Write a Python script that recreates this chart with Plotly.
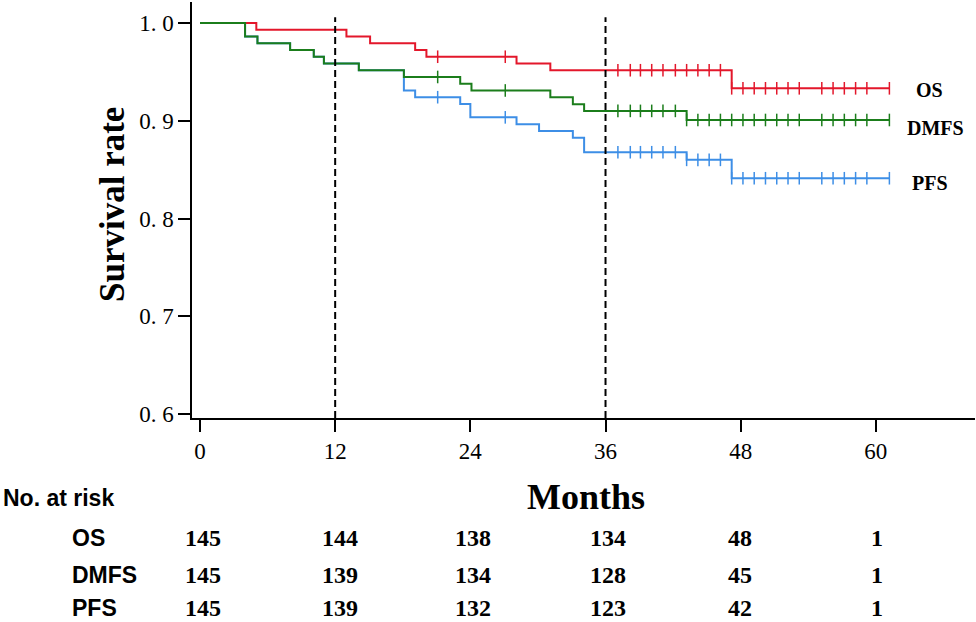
import plotly.graph_objects as go

# ---------------- data ----------------
month_ticks = [0, 12, 24, 36, 48, 60]
y_ticks = [0.6, 0.7, 0.8, 0.9, 1.0]
y_tick_labels = ["0. 6", "0. 7", "0. 8", "0. 9", "1. 0"]

os_t = [0, 5.0, 13.0, 15.1, 19.1, 20.1, 28.1, 31.1, 47.2, 61.2]
os_s = [1.0, 0.9931, 0.9862, 0.9793, 0.9724, 0.9655, 0.9586, 0.9517, 0.9332, 0.9332]

dmfs_t = [0, 4.0, 5.1, 8.0, 10.1, 11.0, 14.1, 18.1, 23.1, 24.1, 31.1, 33.1, 34.1, 43.2, 61.2]
dmfs_s = [1.0, 0.9862, 0.9793, 0.9724, 0.9655, 0.9586, 0.9517, 0.9448, 0.9379, 0.9310,
          0.9240, 0.9170, 0.9101, 0.9008, 0.9008]

pfs_t = [0, 4.0, 5.1, 8.0, 10.1, 11.0, 14.1, 18.1, 19.1, 23.1, 24.0, 28.1, 30.1, 33.1,
         34.1, 43.2, 47.2, 61.2]
pfs_s = [1.0, 0.9862, 0.9793, 0.9724, 0.9655, 0.9586, 0.9517, 0.9310, 0.9241, 0.9172,
         0.9035, 0.8965, 0.8896, 0.8827, 0.8678, 0.8600, 0.8412, 0.8412]

censor_t = [21.1, 27.1, 37.1, 38.2, 39.1, 40.1, 41.1, 42.2, 43.2, 44.2, 45.2, 46.2,
            47.2, 48.2, 49.2, 50.2, 51.2, 52.2, 53.2, 55.2, 56.2, 57.2, 58.2, 59.2, 61.2]

ref_lines = [12, 36]

series_names = ["OS", "DMFS", "PFS"]
risk_times = [0, 12, 24, 36, 48, 60]
risk_os = [145, 144, 138, 134, 48, 1]
risk_dmfs = [145, 139, 134, 128, 45, 1]
risk_pfs = [145, 139, 132, 123, 42, 1]

# ---------------- styling ----------------
W, H = 976, 622
L, R, T, B = 192, 1, 2, 204
PW, PH = W - L - R, H - T - B
SERIF = "Liberation Serif, Times New Roman, serif"
SANS = "Liberation Sans, Arial, sans-serif"
RED, GREEN, BLUE = "#E3172B", "#1B7D1B", "#3D8EE6"
# pixel column centres of the risk table (slightly offset from the ticks, as in the source)
col_px = [203, 340, 473, 608, 740, 877]
row_px = [537.5, 574.5, 608]


def px_to_paper_x(px):
    return (px - L) / PW


def px_to_paper_y(py):
    return (H - B - py) / PH


def level(ts, ss, c):
    v = ss[0]
    for t, s in zip(ts, ss):
        if t <= c:
            v = s
    return v


fig = go.Figure()

curves = [("OS", os_t, os_s, RED), ("PFS", pfs_t, pfs_s, BLUE), ("DMFS", dmfs_t, dmfs_s, GREEN)]
for name, ts, ss, col in curves:
    fig.add_trace(go.Scatter(x=ts, y=ss, mode="lines", line=dict(color=col, width=2, shape="hv"),
                             name=name, showlegend=False, hoverinfo="skip"))
for name, ts, ss, col in curves:
    fig.add_trace(go.Scatter(x=censor_t, y=[level(ts, ss, c) for c in censor_t], mode="markers",
                             marker=dict(symbol="line-ns", size=9, line=dict(color=col, width=1.5)),
                             showlegend=False, hoverinfo="skip"))

for xv in ref_lines:
    fig.add_shape(type="line", xref="x", yref="y", x0=xv, x1=xv, y0=0.5959, y1=1.006,
                  line=dict(color="black", width=2, dash="7px,4px"), layer="above")

ann = []
# curve labels
for name, xl, yl in [("OS", 63.4, 0.9311), ("DMFS", 62.6, 0.8926), ("PFS", 63.0, 0.8368)]:
    ann.append(dict(x=xl, y=yl, xref="x", yref="y", text="<b>%s</b>" % name, showarrow=False,
                    xanchor="left", yanchor="middle", font=dict(family=SERIF, size=20, color="black")))

# axis titles
ann.append(dict(x=px_to_paper_x(112), y=px_to_paper_y(205), xref="paper", yref="paper",
                text="<b>Survival rate</b>", textangle=-90, showarrow=False,
                xanchor="center", yanchor="middle", font=dict(family=SERIF, size=35, color="black")))
ann.append(dict(x=px_to_paper_x(586), y=px_to_paper_y(497), xref="paper", yref="paper",
                text="<b>Months</b>", showarrow=False,
                xanchor="center", yanchor="middle", font=dict(family=SERIF, size=36, color="black")))

# risk table
ann.append(dict(x=px_to_paper_x(1), y=px_to_paper_y(498), xref="paper", yref="paper",
                text="<b>No. at risk</b>", showarrow=False, xanchor="left", yanchor="middle",
                font=dict(family=SANS, size=23, color="black")))
for name, vals, py in zip(series_names, [risk_os, risk_dmfs, risk_pfs], row_px):
    ann.append(dict(x=px_to_paper_x(71), y=px_to_paper_y(py), xref="paper", yref="paper",
                    text="<b>%s</b>" % name, showarrow=False, xanchor="left", yanchor="middle",
                    borderpad=0, font=dict(family=SANS, size=23, color="black")))
    for cx, v in zip(col_px, vals):
        ann.append(dict(x=px_to_paper_x(cx), y=px_to_paper_y(py), xref="paper", yref="paper",
                        text="<b>%d</b>" % v, showarrow=False, xanchor="center", yanchor="middle",
                        borderpad=0, font=dict(family=SERIF, size=24, color="black")))

fig.update_layout(
    width=W, height=H, autosize=False,
    margin=dict(l=L, r=R, t=T, b=B),
    paper_bgcolor="white", plot_bgcolor="white",
    showlegend=False,
    annotations=ann,
    xaxis=dict(range=[-0.71, 68.8], tickmode="array", tickvals=month_ticks,
               ticktext=[str(m) for m in month_ticks], showgrid=False, zeroline=False,
               showline=True, linecolor="black", linewidth=1.5, ticks="outside", ticklen=12,
               tickwidth=1.5, tickcolor="black", tickfont=dict(family=SERIF, size=23, color="black")),
    yaxis=dict(range=[0.5959, 1.0215], tickmode="array", tickvals=y_ticks, ticktext=y_tick_labels,
               showgrid=False, zeroline=False, showline=True, linecolor="black", linewidth=1.5,
               ticks="outside", ticklen=12, tickwidth=1.5, tickcolor="black",
               tickfont=dict(family=SERIF, size=23, color="black")),
)

fig.write_html("out.html", config={"displayModeBar": False},
               post_script="document.body.style.margin='0';document.body.style.overflow='hidden';")
